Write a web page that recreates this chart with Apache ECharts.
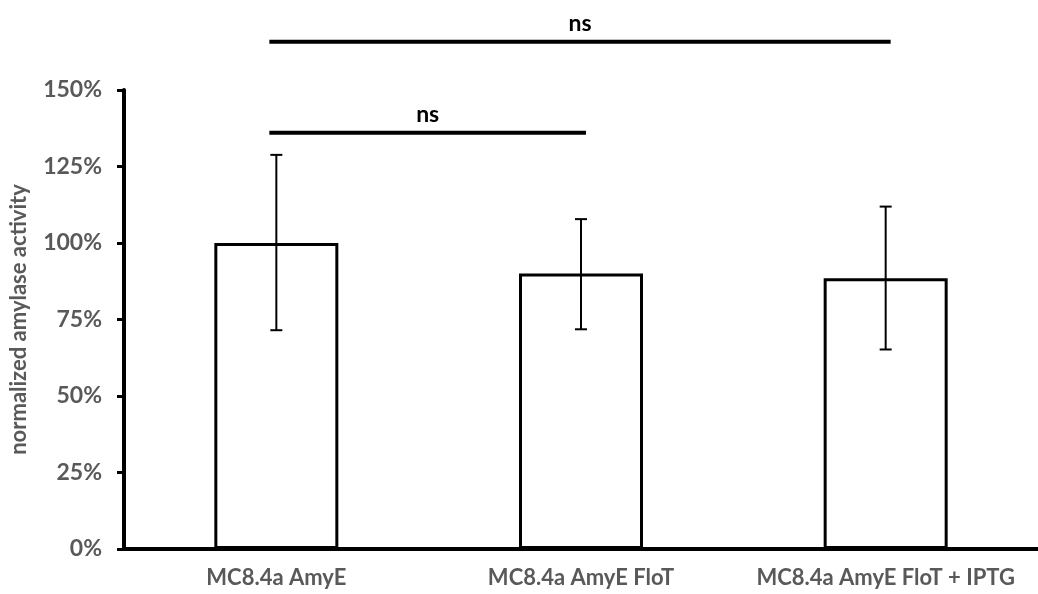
<!DOCTYPE html>
<html>
<head>
<meta charset="utf-8">
<script src="https://cdn.jsdelivr.net/npm/echarts@6/dist/echarts.min.js"></script>
<style>
  html, body { margin: 0; padding: 0; background: #fff; }
  #chart { width: 1038px; height: 594px; }
</style>
</head>
<body>
<div id="chart"></div>
<script>
// data (percent)
const categories = ['MC8.4a AmyE', 'MC8.4a AmyE FloT', 'MC8.4a AmyE FloT + IPTG'];
const means = [100, 90, 88.5];
const errLow = [71.5, 71.8, 65.2];
const errHigh = [128.8, 107.8, 111.9];
// significance brackets: [from category, to category, level %, label]
const brackets = [
  [0, 1, 136, 'ns'],
  [0, 2, 165.8, 'ns']
];

const font = 'Lato, "Open Sans", sans-serif';
const grey = '#595959';

const chart = echarts.init(document.getElementById('chart'));

chart.setOption({
  backgroundColor: '#fff',
  animation: false,
  grid: { left: 122, right: 0, top: 90, bottom: 45 },
  xAxis: {
    type: 'category',
    data: categories,
    axisLine: { lineStyle: { color: '#000', width: 4 } },
    axisTick: { show: false },
    axisLabel: {
      color: grey, fontFamily: font, fontWeight: 'bold', fontSize: 22,
      margin: 18, interval: 0
    }
  },
  yAxis: {
    type: 'value',
    min: 0,
    max: 150,
    interval: 25,
    name: 'normalized amylase activity',
    nameLocation: 'middle',
    nameGap: 94,
    nameTextStyle: { color: grey, fontFamily: font, fontWeight: 'bold', fontSize: 22 },
    axisLine: { show: true, lineStyle: { color: '#000', width: 4 } },
    axisTick: { show: true, length: 7, lineStyle: { color: '#000', width: 3 } },
    splitLine: { show: false },
    axisLabel: {
      formatter: '{value}%',
      color: grey, fontFamily: font, fontWeight: 'bold', fontSize: 23,
      margin: 22
    }
  },
  series: [
    {
      type: 'bar',
      data: means,
      barWidth: 124,
      itemStyle: { color: '#fff', borderColor: '#000', borderWidth: 3 },
      z: 2
    },
    {
      type: 'custom',
      z: 3,
      data: categories.map((c, i) => [i, errLow[i], errHigh[i]]),
      renderItem: (params, api) => {
        const lo = api.coord([api.value(0), api.value(1)]);
        const hi = api.coord([api.value(0), api.value(2)]);
        const hw = 6;
        const st = { stroke: '#000', lineWidth: 2 };
        return {
          type: 'group',
          children: [
            { type: 'line', shape: { x1: lo[0], y1: lo[1], x2: hi[0], y2: hi[1] }, style: st },
            { type: 'line', shape: { x1: hi[0] - hw, y1: hi[1], x2: hi[0] + hw, y2: hi[1] }, style: st },
            { type: 'line', shape: { x1: lo[0] - hw, y1: lo[1], x2: lo[0] + hw, y2: lo[1] }, style: st }
          ]
        };
      }
    },
    {
      type: 'custom',
      z: 4,
      clip: false,
      data: brackets,
      renderItem: (params, api) => {
        const b = brackets[params.dataIndex];
        const p1 = api.coord([b[0], b[2]]);
        const p2 = api.coord([b[1], b[2]]);
        const x1 = p1[0] - 7, x2 = p2[0] + 5;
        return {
          type: 'group',
          children: [
            { type: 'line', shape: { x1: x1, y1: p1[1], x2: x2, y2: p2[1] },
              style: { stroke: '#000', lineWidth: 4 } },
            { type: 'text', x: (x1 + x2) / 2, y: p1[1] - 7,
              style: { text: b[3], fill: '#000', font: 'bold 23px ' + font,
                       align: 'center', verticalAlign: 'bottom' } }
          ]
        };
      }
    }
  ]
});
</script>
</body>
</html>
